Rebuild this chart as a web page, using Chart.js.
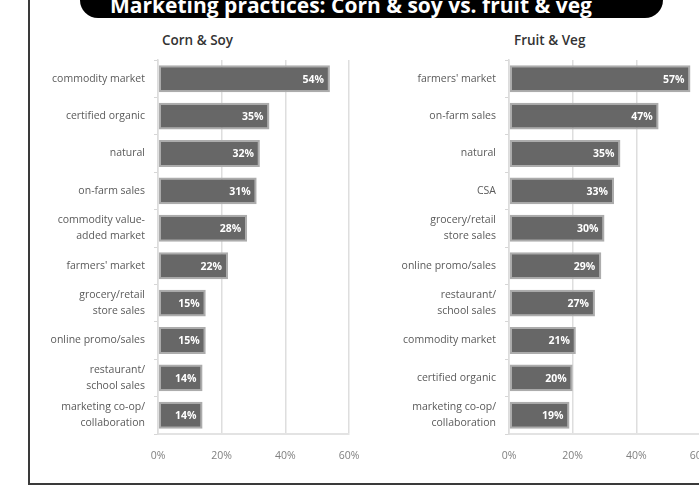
<!DOCTYPE html>
<html>
<head>
<meta charset="utf-8">
<script src="https://cdn.jsdelivr.net/npm/chart.js@4.4.1/dist/chart.umd.min.js"></script>
<style>
  html, body { margin: 0; padding: 0; background: #fff; overflow: hidden; }
  body { width: 699px; height: 489px; position: relative; font-family: "Open Sans", sans-serif; }
  #frame { position: absolute; left: 28px; top: -5px; width: 700px; height: 490px;
           border-left: 2px solid #3a3a3a; border-bottom: 2px solid #3a3a3a; box-sizing: border-box; }
  #banner { position: absolute; left: 80px; top: -22px; width: 583px; height: 40px;
            background: #000; border-radius: 18px; color: #fff; font-weight: 700;
            font-size: 21px; line-height: 40px; white-space: nowrap;
            box-sizing: border-box; padding-left: 30px; }
  #banner span { position: relative; top: 7px; }
  .sub { position: absolute; top: 31px; font-size: 13.5px; font-weight: 600; color: #333; }
  .box { position: absolute; top: 50px; width: 340px; height: 430px; }
</style>
</head>
<body>
<div id="frame"></div>
<div id="banner"><span>Marketing practices: Corn &amp; soy vs. fruit &amp; veg</span></div>
<div class="sub" style="left:162px">Corn &amp; Soy</div>
<div class="sub" style="left:514px">Fruit &amp; Veg</div>
<div class="box" style="left:30px"><canvas id="cornChart" width="340" height="430"></canvas></div>
<div class="box" style="left:381px"><canvas id="fruitChart" width="340" height="430"></canvas></div>

<script>
// Corn & Soy
const cornLabels = [
  'commodity market', 'certified organic', 'natural', 'on-farm sales',
  ['commodity value-', 'added market'], "farmers' market",
  ['grocery/retail', 'store sales'], 'online promo/sales',
  ['restaurant/', 'school sales'], ['marketing co-op/', 'collaboration']
];
const cornValues = [54, 35, 32, 31, 28, 22, 15, 15, 14, 14];

// Fruit & Veg
const fruitLabels = [
  "farmers' market", 'on-farm sales', 'natural', 'CSA',
  ['grocery/retail', 'store sales'], 'online promo/sales',
  ['restaurant/', 'school sales'], 'commodity market', 'certified organic',
  ['marketing co-op/', 'collaboration']
];
const fruitValues = [57, 47, 35, 33, 30, 29, 27, 21, 20, 19];

const xTicks = [0, 20, 40, 60];

// white % labels at the end of each bar
const barLabels = {
  id: 'barLabels',
  afterDatasetsDraw(chart) {
    const ctx = chart.ctx;
    const data = chart.data.datasets[0].data;
    ctx.save();
    ctx.font = 'bold 10.5px "Open Sans", sans-serif';
    ctx.fillStyle = '#ffffff';
    ctx.textAlign = 'right';
    ctx.textBaseline = 'middle';
    chart.getDatasetMeta(0).data.forEach((bar, i) => {
      ctx.fillText(data[i] + '%', bar.x - 6, bar.y + 1);
    });
    ctx.restore();
  }
};

function makeChart(id, labels, values) {
  const ctx = document.getElementById(id).getContext('2d');
  return new Chart(ctx, {
    type: 'bar',
    data: {
      labels: labels,
      datasets: [{
        data: values,
        backgroundColor: '#676767',
        borderColor: '#acacac',
        borderWidth: 2,
        borderSkipped: false,
        barPercentage: 0.72,
        categoryPercentage: 1
      }]
    },
    plugins: [barLabels],
    options: {
      indexAxis: 'y',
      responsive: false,
      animation: false,
      layout: { padding: { top: 10, right: 21, bottom: 16, left: 0 } },
      plugins: {
        legend: { display: false },
        tooltip: { enabled: false }
      },
      scales: {
        x: {
          min: 0,
          max: 60,
          afterBuildTicks: axis => { axis.ticks = xTicks.map(v => ({ value: v })); },
          afterFit: axis => {
            axis.height = 30;
            axis.paddingLeft = 0;
            axis.paddingRight = 0;
          },
          grid: { color: '#dedede', lineWidth: 1.5, drawTicks: false },
          border: { color: '#e3e3e3', width: 2 },
          ticks: {
            padding: 16,
            color: '#808080',
            font: { family: '"Open Sans", sans-serif', size: 10.5 },
            callback: v => v + '%'
          }
        },
        y: {
          afterFit: axis => {
            axis.width = 128;
            axis.paddingTop = 0;
            axis.paddingBottom = 0;
          },
          grid: { offset: true, drawOnChartArea: false, tickLength: 4, color: '#d6d6d6' },
          border: { color: '#dcdcdc', width: 1.5 },
          ticks: {
            padding: 9,
            color: '#5a5a5a',
            font: { family: '"Open Sans", sans-serif', size: 10.5, lineHeight: 1.5 }
          }
        }
      }
    }
  });
}

const cornChart = makeChart('cornChart', cornLabels, cornValues);
const fruitChart = makeChart('fruitChart', fruitLabels, fruitValues);
</script>
</body>
</html>
